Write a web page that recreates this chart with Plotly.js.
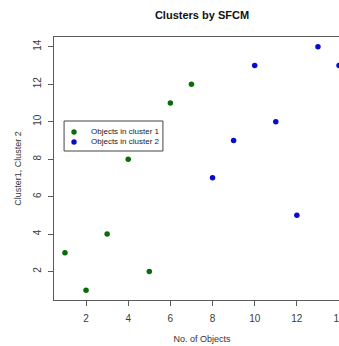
<!DOCTYPE html>
<html><head><meta charset="utf-8">
<script src="https://cdn.plot.ly/plotly-3.0.1.min.js"></script>
<style>html,body{margin:0;padding:0;overflow:hidden;background:#fff}</style>
</head><body><div id="chart" style="width:360px;height:346px"></div>
<script>
const cluster1X = [1, 2, 3, 4, 5, 6, 7];
const cluster1Y = [3, 1, 4, 8, 2, 11, 12];
const cluster2X = [8, 9, 10, 11, 12, 13, 14];
const cluster2Y = [7, 9, 13, 10, 5, 14, 13];
const seriesNames = ['Objects in cluster 1', 'Objects in cluster 2'];
const seriesColors = ['#0b6b0b', '#0a0acd'];
const tickValues = [2, 4, 6, 8, 10, 12, 14];
const chartTitle = 'Clusters by SFCM';
const xTitle = 'No. of Objects';
const yTitle = 'Cluster1, Cluster 2';

const FONT = 'Liberation Sans, Arial, sans-serif';
const AX = '#5a5a5a';

const traces = [
  {x: cluster1X, y: cluster1Y, name: seriesNames[0], type: 'scatter', mode: 'markers',
   marker: {symbol: 'circle', size: 5.5, color: seriesColors[0], line: {width: 0}}, showlegend: false},
  {x: cluster2X, y: cluster2Y, name: seriesNames[1], type: 'scatter', mode: 'markers',
   marker: {symbol: 'circle', size: 5.5, color: seriesColors[1], line: {width: 0}}, showlegend: false}
];

// custom legend (R-style compact box)
const lgX0 = 0.034, lgX1 = 0.368, lgY0 = 0.5665, lgY1 = 0.6806;
const rowY = [0.6388, 0.6008];
const shapes = [
  {type: 'rect', xref: 'paper', yref: 'paper', x0: lgX0, x1: lgX1, y0: lgY0, y1: lgY1,
   line: {color: '#444', width: 1}, fillcolor: 'rgba(0,0,0,0)'}
];
const annotations = [];
seriesNames.forEach((n, i) => {
  shapes.push({type: 'circle', xref: 'paper', yref: 'paper', xsizemode: 'pixel', ysizemode: 'pixel',
    xanchor: 0.0676, yanchor: rowY[i], x0: -2.7, x1: 2.7, y0: -2.7, y1: 2.7,
    fillcolor: seriesColors[i], line: {width: 0}});
  annotations.push({xref: 'paper', yref: 'paper', x: 0.118, y: rowY[i], xanchor: 'left', yanchor: 'middle',
    text: n, showarrow: false, font: {family: FONT, size: 8, color: '#222'}});
});

const axisCommon = {
  showline: true, mirror: true, linecolor: AX, linewidth: 1,
  ticks: 'outside', ticklen: 5, tickcolor: AX, tickwidth: 1,
  showgrid: false, zeroline: false,
  tickvals: tickValues, ticktext: tickValues.map(String),
  tickfont: {family: FONT, size: 10, color: '#3a3a3a'}
};

const layout = {
  width: 360, height: 346,
  margin: {l: 54, r: 10, t: 37, b: 46},
  paper_bgcolor: '#fff', plot_bgcolor: '#fff',
  title: {text: chartTitle, x: 0.5, xref: 'paper', y: 1 - 15 / 346, yanchor: 'middle',
    font: {family: FONT, size: 11, weight: 'bold', color: '#111'}},
  xaxis: Object.assign({}, axisCommon, {range: [0.48, 14.52], ticklabelstandoff: 4,
    title: {text: xTitle, standoff: 12, font: {family: FONT, size: 9, color: '#333'}}}),
  yaxis: Object.assign({}, axisCommon, {range: [0.48, 14.52], tickangle: -90, ticklabelstandoff: 3,
    title: {text: yTitle, standoff: 8, font: {family: FONT, size: 9, color: '#333'}}}),
  shapes: shapes,
  annotations: annotations,
  showlegend: false
};

Plotly.newPlot('chart', traces, layout, {displayModeBar: false, staticPlot: true});
</script></body></html>
